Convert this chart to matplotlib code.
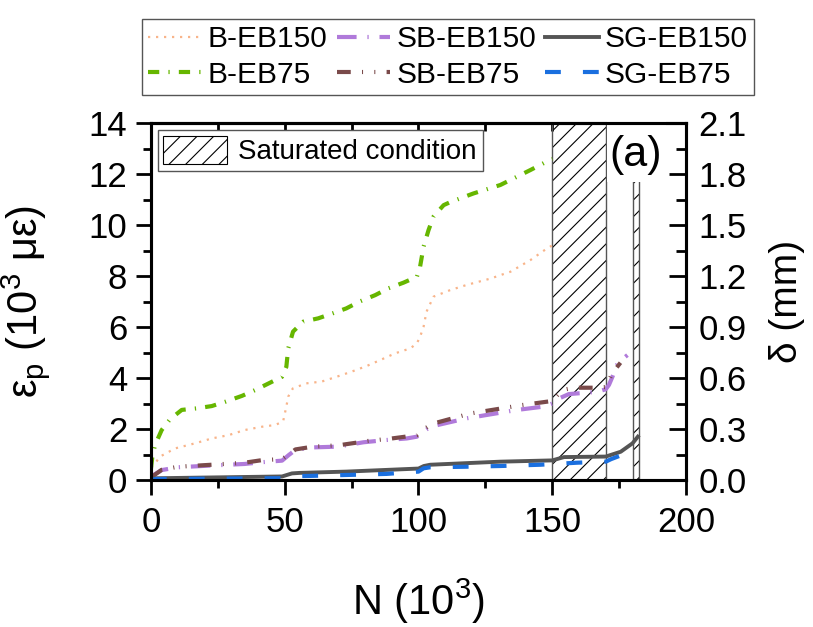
import matplotlib
matplotlib.use("Agg")
import matplotlib.pyplot as plt
from matplotlib.patches import Patch, Rectangle
from matplotlib.ticker import MultipleLocator, FormatStrFormatter

plt.rcParams["font.family"] = ["Liberation Sans", "DejaVu Sans"]
plt.rcParams["hatch.linewidth"] = 0.8

# ------------------------------
# Data (N in 10^3 cycles, strain in 10^3 microstrain)
# ------------------------------
n_b150 = [0, 1.5, 3.4, 9, 16.5, 22.7, 29, 35, 41.5, 46.5, 49.4, 50.6, 51.3, 53, 58, 63.8,
          69.4, 75, 80.6, 85.6, 91.3, 96.9, 99.4, 100.6, 101.9, 103, 105.6, 111.9, 118,
          126.9, 134.4, 141.9, 148, 150]
e_b150 = [0.5, 0.65, 0.92, 1.24, 1.44, 1.63, 1.76, 1.96, 2.09, 2.16, 2.3, 2.88, 3.27, 3.59,
          3.79, 3.86, 4.05, 4.25, 4.47, 4.7, 4.97, 5.16, 5.36, 5.62, 6.01, 6.6, 7.19, 7.45,
          7.65, 7.9, 8.17, 8.63, 9.08, 9.2]

n_b75 = [0, 0.5, 1.5, 4, 7.1, 11.5, 17, 22.7, 27.8, 34, 39, 44, 49, 50.6, 51.3, 53.1, 56.9,
         62.5, 68, 73, 78, 83.8, 88.8, 94.4, 99.4, 100.6, 101.9, 103.75, 105.6, 109.4, 111.9,
         120.6, 130.6, 141.9, 150]
e_b75 = [0.45, 0.9, 1.37, 1.96, 2.38, 2.75, 2.81, 2.9, 3.07, 3.3, 3.53, 3.79, 4.05, 4.44, 5.16,
         5.82, 6.21, 6.34, 6.54, 6.73, 7.0, 7.25, 7.52, 7.74, 7.97, 8.37, 9.15, 9.8, 10.33,
         10.78, 10.9, 11.24, 11.57, 12.16, 12.6]

n_sb150 = [0, 1, 4, 10, 22.7, 35, 41.5, 49, 51.5, 54, 60.6, 70, 79.4, 88, 95.6, 99.4, 101.9,
           104.4, 118, 136.9, 146.9, 150, 151.9, 156.2, 166.9, 170, 171.2, 172.5, 174.4, 178.1]
e_sb150 = [0.1, 0.2, 0.39, 0.5, 0.57, 0.63, 0.7, 0.76, 0.98, 1.18, 1.28, 1.31, 1.48, 1.57, 1.63,
           1.7, 1.9, 2.09, 2.42, 2.75, 2.88, 3.0, 3.17, 3.37, 3.46, 3.56, 3.73, 4.05, 4.58, 4.9]

n_sb75 = [0, 4, 10, 22.7, 35, 41.5, 49, 51.5, 54, 60.6, 70, 81, 90, 99.4, 101.9, 105, 119.4,
          138.7, 150, 153.7, 158.1, 166, 170, 172.5, 175.5]
e_sb75 = [0.1, 0.4, 0.52, 0.6, 0.68, 0.78, 0.82, 1.0, 1.2, 1.31, 1.36, 1.53, 1.63, 1.76, 1.98,
          2.2, 2.61, 2.94, 3.1, 3.53, 3.62, 3.62, 3.65, 4.2, 4.6]

n_sg150 = [0, 2, 49, 52.7, 55.6, 73, 100, 102, 104.4, 130.6, 150, 154.4, 170, 175.6, 180, 182]
e_sg150 = [0.03, 0.07, 0.14, 0.26, 0.28, 0.33, 0.45, 0.55, 0.6, 0.72, 0.77, 0.9, 0.92, 1.11,
           1.44, 1.7]

n_sg75 = [0, 2, 49, 50.5, 52, 59, 73.8, 88, 100, 101.9, 104.4, 116.9, 130.6, 145.6, 159.4,
          170, 172, 176]
e_sg75 = [0.0, 0.04, 0.07, 0.12, 0.15, 0.16, 0.2, 0.24, 0.33, 0.46, 0.5, 0.52, 0.55, 0.6,
          0.68, 0.72, 0.82, 0.98]

# saturated condition spans (N)
sat_spans = [(150, 170), (180, 182.5)]

# ------------------------------
# Plot
# ------------------------------
fig = plt.figure(figsize=(8.13, 6.27), dpi=100)
ax = fig.add_axes([0.1857, 0.2344, 0.6581, 0.5694])

for x0, x1 in sat_spans:
    ax.axvspan(x0, x1, facecolor="none", edgecolor="black", hatch="//", lw=0, zorder=1)
    ax.axvspan(x0, x1, facecolor="none", edgecolor="#555555", lw=1.0, zorder=1)

# white box behind the "(a)" label
ax.add_patch(Rectangle((0.852, 0.835), 0.111, 0.17, transform=ax.transAxes,
                       facecolor="white", edgecolor="none", zorder=1.5, clip_on=False))

l1, = ax.plot(n_b150, e_b150, color="#F8B48A", lw=1.6, dashes=(1, 2.6), label="B-EB150")
l2, = ax.plot(n_b75, e_b75, color="#66B600", lw=3, dashes=(2.7, 2.2, 0.3, 2.2), label="B-EB75")
l3, = ax.plot(n_sb150, e_sb150, color="#B07ADA", lw=3, dashes=(4.7, 2.6, 0.3, 2.6), label="SB-EB150")
l4, = ax.plot(n_sb75, e_sb75, color="#7A4A4A", lw=3,
              dashes=(3.3, 2.7, 0.25, 2.7, 0.25, 2.7), label="SB-EB75")
l5, = ax.plot(n_sg150, e_sg150, color="#555555", lw=2.8, label="SG-EB150")
l6, = ax.plot(n_sg75, e_sg75, color="#1A6FDF", lw=3, dashes=(3.8, 5.3), label="SG-EB75")

ax.set_xlim(0, 200)
ax.set_ylim(0, 14)
ax.xaxis.set_major_locator(MultipleLocator(50))
ax.xaxis.set_minor_locator(MultipleLocator(25))
ax.yaxis.set_major_locator(MultipleLocator(2))
ax.yaxis.set_minor_locator(MultipleLocator(1))
ax.tick_params(axis="both", which="major", labelsize=25, length=11, width=2, direction="out")
ax.tick_params(axis="both", which="minor", length=5.5, width=2, direction="out")
ax.tick_params(axis="x", which="major", pad=8)
ax.tick_params(axis="y", which="major", pad=6)
for sp in ax.spines.values():
    sp.set_linewidth(2.2)

ax.set_xlabel("N (10$^{\\mathregular{3}}$)", fontsize=30)
ax.xaxis.set_label_coords(0.5, -0.27)
ax.set_ylabel("ε$_{\\mathregular{p}}$ (10$^{\\mathregular{3}}$ με)", fontsize=30)
ax.yaxis.set_label_coords(-0.185, 0.5)

ax2 = ax.twinx()
ax2.set_ylim(0, 2.1)
ax2.yaxis.set_major_locator(MultipleLocator(0.3))
ax2.yaxis.set_minor_locator(MultipleLocator(0.15))
ax2.yaxis.set_major_formatter(FormatStrFormatter("%.1f"))
ax2.tick_params(axis="y", which="major", labelsize=25, length=12, width=2, direction="in",
                pad=9)
ax2.tick_params(axis="y", which="minor", length=7, width=2, direction="in")
ax2.set_ylabel("δ (mm)", fontsize=28)
ax2.yaxis.set_label_coords(1.156, 0.5)
for sp in ax2.spines.values():
    sp.set_linewidth(2.2)

# top ticks drawn inward
ax3 = ax.secondary_xaxis("top")
ax3.xaxis.set_major_locator(MultipleLocator(25))
ax3.tick_params(axis="x", which="major", direction="in", length=5.5, width=2, labeltop=False)
ax3.tick_params(axis="x", which="minor", length=0)
ax3.spines["top"].set_linewidth(2.2)

ax2.text(0.906, 0.91, "(a)", transform=ax2.transAxes, fontsize=31, ha="center", va="center",
         zorder=5)

sat_handle = Patch(facecolor="white", edgecolor="black", hatch="//", lw=0.8)
leg_sat = ax2.legend([sat_handle], ["Saturated condition"], loc="upper left", fontsize=20,
                     fancybox=False, edgecolor="#555555", framealpha=1, handlelength=2.3,
                     handleheight=1.2, handletextpad=0.4, borderpad=0.2, borderaxespad=0.25)
leg_sat.get_frame().set_linewidth(1.0)

leg = fig.legend([l1, l2, l3, l4, l5, l6],
                 ["B-EB150", "B-EB75", "SB-EB150", "SB-EB75", "SG-EB150", "SG-EB75"],
                 ncol=3, loc="upper center", bbox_to_anchor=(0.551, 0.993), fontsize=21.5,
                 fancybox=False, edgecolor="#555555", framealpha=1, handlelength=1.8,
                 handletextpad=0.2, columnspacing=0.3, borderpad=0.2, labelspacing=0.25)
leg.get_frame().set_linewidth(1.0)

fig.savefig("out.png", dpi=100)
